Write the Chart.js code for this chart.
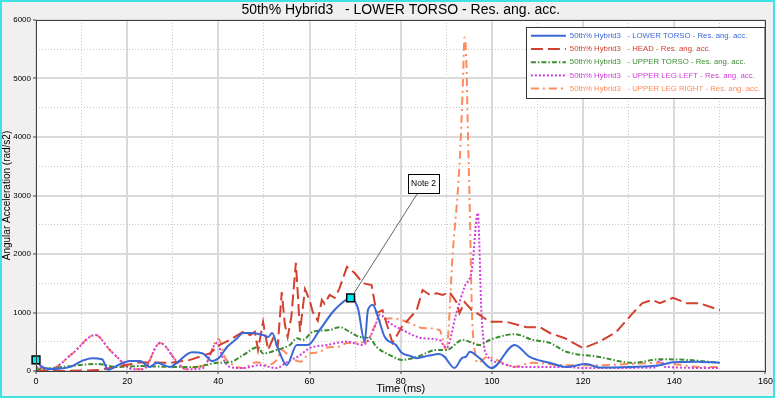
<!DOCTYPE html>
<html>
<head>
<meta charset="utf-8">
<script src="https://cdn.jsdelivr.net/npm/chart.js@4/dist/chart.umd.min.js"></script>
<style>
  html, body { margin: 0; padding: 0; background: #F0F0F0; }
  #wrap { width: 775px; height: 398px; }
</style>
</head>
<body>
<div id="wrap"><canvas id="accChart"></canvas></div>
<script>
const FONT = "'Liberation Sans', Arial, sans-serif";
const chartTitle = "50th% Hybrid3   - LOWER TORSO - Res. ang. acc.";
const seriesNames = [
  "50th% Hybrid3   - LOWER TORSO - Res. ang. acc.",
  "50th% Hybrid3   - HEAD - Res. ang. acc.",
  "50th% Hybrid3   - UPPER TORSO - Res. ang. acc.",
  "50th% Hybrid3   - UPPER LEG LEFT - Res. ang. acc.",
  "50th% Hybrid3   - UPPER LEG RIGHT - Res. ang. acc."
];
const xTicks = [0, 20, 40, 60, 80, 100, 120, 140, 160];
const yTicks = [0, 1000, 2000, 3000, 4000, 5000, 6000];

// time (ms) / angular acceleration (rad/s2)
const lowerTorsoT = [0, 1, 3, 5, 7.5, 10, 12.3, 14.5, 15.8, 18, 20.6, 22.8, 25, 26.5, 29.4, 30.9, 34.2, 36.6, 38.6, 40.3, 41.9, 44, 45.4, 47, 49.8, 50.9, 51.8, 53, 55, 57.2, 59.6, 62.2, 65, 66.6, 69, 70.6, 72.1, 72.8, 73.9, 75, 76.5, 79, 80.2, 82, 83.5, 86, 88.5, 89.5, 91.8, 93.4, 94.4, 95.1, 97.3, 99.9, 105, 108.3, 112.6, 116.3, 120.7, 123.6, 130, 136.8, 139.7, 145, 150];
const lowerTorsoV = [190, 90, 35, 40, 70, 170, 220, 200, 20, 100, 170, 170, 70, 140, 70, 140, 320, 300, 170, 240, 410, 550, 650, 650, 615, 580, 650, 400, 100, 445, 445, 700, 1000, 1130, 1250, 1075, 500, 1040, 1130, 925, 580, 440, 310, 260, 220, 260, 290, 250, 50, 220, 250, 330, 220, 50, 445, 240, 140, 70, 120, 60, 70, 100, 150, 160, 140];

const headT = [0, 6, 13.4, 17.8, 22.8, 29.4, 33.8, 38.1, 40.3, 42.5, 45.4, 47, 48, 48.7, 49.8, 50.9, 52, 53, 53.9, 54.6, 55.2, 56, 57, 57.5, 57.9, 59, 60, 60.7, 61.8, 62.7, 63.3, 64.4, 65.5, 66.5, 68.2, 69.9, 71.7, 73.6, 74.7, 76, 78.2, 80.2, 83.5, 84.8, 86.4, 87.9, 89.2, 90.7, 92.2, 92.9, 94, 95.6, 96.7, 99.5, 103.2, 107.6, 110.5, 112.7, 116, 120, 123.6, 127.3, 130.9, 133, 135.2, 136.8, 139.7, 142.7, 145.5, 150];
const headV = [0, 0, 15, 70, 150, 140, 190, 300, 445, 530, 670, 615, 670, 360, 840, 360, 560, 410, 1350, 785, 580, 920, 1850, 1215, 670, 1400, 1215, 1010, 860, 1215, 1150, 1300, 1250, 1400, 1780, 1675, 1500, 1470, 990, 1040, 480, 750, 1040, 1385, 1300, 1330, 1300, 1350, 1180, 990, 1180, 1040, 990, 840, 840, 750, 750, 650, 560, 390, 500, 670, 990, 1160, 1215, 1160, 1250, 1160, 1160, 1040];

const upperTorsoT = [0, 6, 13.4, 17.8, 22.8, 29.4, 35, 39.7, 42.5, 45.4, 48.7, 49.8, 52.8, 55.7, 57.2, 58.5, 60.7, 64.4, 66.6, 68.8, 71, 73.2, 74.7, 77.6, 80.4, 83.5, 87.9, 90, 93.6, 97.3, 99.5, 103.2, 105, 109, 112.7, 116.3, 123.6, 130.9, 136.8, 142.7, 150];
const upperTorsoV = [20, 70, 120, 70, 85, 70, 70, 140, 150, 270, 410, 300, 360, 445, 560, 530, 670, 700, 750, 670, 580, 560, 410, 270, 190, 240, 360, 360, 530, 445, 530, 615, 630, 530, 480, 330, 240, 140, 200, 190, 140];

const legLeftT = [0, 3, 8, 13, 16.2, 17.8, 21.3, 23.5, 27.2, 31, 33, 36.6, 39.7, 41, 42.5, 45.4, 49, 52.8, 55, 57.9, 60, 63.8, 68.2, 71.7, 74.3, 75.4, 77.6, 80.4, 84.8, 88.5, 90, 92.2, 94, 95.6, 96.9, 97.7, 98, 98.5, 101.7, 105.4, 110.5, 116.3, 120, 136, 136.8, 138, 150];
const legLeftV = [70, 30, 300, 615, 360, 240, 30, 30, 480, 150, 30, 50, 480, 220, 70, 50, 100, 50, 150, 270, 390, 445, 500, 445, 750, 960, 820, 700, 560, 530, 390, 990, 1440, 1730, 2700, 990, 650, 330, 140, 70, 70, 70, 50, 60, 200, 70, 50];

const legRightT = [0, 3, 8, 13, 16.2, 21, 23.5, 27.2, 31, 33, 35, 37, 40, 41.4, 42.5, 45.4, 48.4, 50.6, 52.8, 53.9, 55.7, 58, 60, 62.2, 63.8, 66.6, 68.2, 72.5, 74.7, 78.2, 82, 84.8, 88.5, 90, 91.4, 92.9, 93.6, 94, 94.4, 94.7, 95.1, 95.6, 96.2, 96.9, 99, 102.4, 104.6, 109, 116, 123.6, 137, 145.5, 150];
const legRightV = [50, 30, 300, 620, 360, 40, 30, 480, 150, 30, 70, 100, 550, 240, 140, 50, 150, 100, 190, 360, 240, 160, 300, 320, 400, 420, 480, 500, 820, 900, 820, 735, 700, 360, 2010, 3550, 4850, 5700, 5260, 4170, 2920, 1040, 360, 140, 240, 140, 70, 140, 100, 100, 140, 70, 70];

// the two cyan markers and the note
const markerT = [0, 69];
const markerV = [190, 1250];
const noteText = "Note 2";
const noteX = 85;
const noteY = 3200;

const colors = ["#3A68D6", "#D2402E", "#3C8C32", "#D23CDC", "#FF8A5C"];
const dashes = [[], [12, 5], [5, 2, 1.5, 2], [2, 2], [8, 4, 2, 4]];

function pts(t, v) {
  return t.map((x, i) => ({ x: x, y: v[i] }));
}

const seriesData = [
  pts(lowerTorsoT, lowerTorsoV),
  pts(headT, headV),
  pts(upperTorsoT, upperTorsoV),
  pts(legLeftT, legLeftV),
  pts(legRightT, legRightV)
];

const datasets = seriesData.map((d, i) => ({
  label: seriesNames[i],
  data: d,
  borderColor: colors[i],
  backgroundColor: colors[i],
  borderWidth: 2,
  borderDash: dashes[i],
  pointRadius: 0,
  cubicInterpolationMode: i === 1 ? "default" : "monotone",
  tension: 0,
  fill: false
}));

datasets.unshift({
  data: pts(markerT, markerV),
  showLine: false,
  pointStyle: "rect",
  pointRadius: 5.5,
  backgroundColor: "#00E8F0",
  borderColor: "#000000",
  borderWidth: 1.5,
  clip: false,
  order: -1
});

// background, legend placement, note, frame
const decor = {
  id: "decor",
  beforeDraw(chart) {
    const { ctx, chartArea: a, width, height } = chart;
    ctx.save();
    ctx.fillStyle = "#F0F0F0";
    ctx.fillRect(0, 0, width, height);
    ctx.fillStyle = "#FFFFFF";
    ctx.fillRect(a.left, a.top, a.right - a.left, a.bottom - a.top);
    ctx.restore();
  },
  afterLayout(chart) {
    const lg = chart.legend;
    const a = chart.chartArea;
    lg.left = a.right - 240;
    lg.top = a.top + 6.5;
    lg.width = 240;
    lg.height = 80;
    lg.right = lg.left + lg.width;
    lg.bottom = lg.top + lg.height;
  },
  afterDraw(chart) {
    const { ctx, chartArea: a, width, height } = chart;
    const xs = chart.scales.x, ys = chart.scales.y;
    ctx.save();

    // note with leader line
    const nx = xs.getPixelForValue(noteX), ny = ys.getPixelForValue(noteY);
    const mx = xs.getPixelForValue(markerT[1]), my = ys.getPixelForValue(markerV[1]);
    ctx.font = "8.5px " + FONT;
    const bw = 31, bh = 19;
    ctx.strokeStyle = "#666666";
    ctx.lineWidth = 1;
    ctx.beginPath();
    ctx.moveTo(nx - 6, ny + bh / 2);
    ctx.lineTo(mx + 3, my - 4);
    ctx.stroke();
    ctx.fillStyle = "#FFFFFF";
    ctx.fillRect(nx - bw / 2, ny - bh / 2, bw, bh);
    ctx.strokeStyle = "#000000";
    ctx.strokeRect(Math.round(nx - bw / 2) + 0.5, Math.round(ny - bh / 2) + 0.5, bw, bh);
    ctx.fillStyle = "#000000";
    ctx.textAlign = "center";
    ctx.textBaseline = "middle";
    ctx.fillText(noteText, nx, ny);

    // legend box
    const lg = chart.legend;
    const bx = Math.round(lg.left) + 1, by = Math.round(lg.top);
    ctx.fillStyle = "#FFFFFF";
    ctx.fillRect(bx, by, a.right - bx, 71);
    ctx.strokeStyle = "#333333";
    ctx.strokeRect(bx + 0.5, by + 0.5, a.right - bx - 1, 71);
    lg.draw(a);

    // plot frame
    ctx.strokeStyle = "#404040";
    ctx.lineWidth = 1;
    ctx.strokeRect(Math.round(a.left) + 0.5, Math.round(a.top) + 0.5, Math.round(a.right - a.left), Math.round(a.bottom - a.top));

    // outer border
    ctx.strokeStyle = "#3FE3E3";
    ctx.lineWidth = 2;
    ctx.strokeRect(1, 1, width - 2, height - 2);
    ctx.restore();
  }
};

new Chart(document.getElementById("accChart"), {
  type: "line",
  data: { datasets: datasets },
  options: {
    responsive: true,
    maintainAspectRatio: false,
    animation: false,
    devicePixelRatio: 1,
    layout: { padding: { left: 0, right: 9, top: 0, bottom: 0 } },
    plugins: {
      tooltip: { enabled: false },
      title: {
        display: true,
        text: chartTitle,
        color: "#000000",
        fullSize: false,
        font: { family: FONT, size: 14, weight: "normal", lineHeight: 1 },
        padding: { top: 3, bottom: 3 }
      },
      legend: {
        display: true,
        position: "chartArea",
        align: "start",
        labels: {
          font: { family: FONT, size: 7.8 },
          usePointStyle: true,
          pointStyleWidth: 35,
          padding: 5.4,
          generateLabels: chart => chart.data.datasets
            .map((ds, i) => ({
              text: ds.label,
              fontColor: ds.borderColor,
              strokeStyle: ds.borderColor,
              fillStyle: ds.borderColor,
              lineWidth: ds.borderWidth,
              lineDash: ds.borderDash || [],
              pointStyle: "line",
              hidden: false,
              datasetIndex: i
            }))
            .filter(l => l.text)
        }
      }
    },
    scales: {
      x: {
        type: "linear",
        min: 0,
        max: 160,
        afterFit: s => { s.height = 27; },
        afterBuildTicks: s => { s.ticks = xTicks.map(v => ({ value: v })); },
        ticks: { color: "#000000", font: { family: FONT, size: 9 }, padding: 2, maxRotation: 0, callback: v => String(v) },
        grid: { color: "#DADADA", lineWidth: 2, tickColor: "#404040", tickLength: 3, tickWidth: 1 },
        border: { display: false },
        title: { display: true, text: "Time (ms)", color: "#000000", font: { family: FONT, size: 11 }, padding: { top: 0, bottom: 2 } }
      },
      x2: {
        type: "linear",
        axis: "x",
        position: "bottom",
        min: 0,
        max: 160,
        afterFit: s => { s.height = 0; },
        ticks: { display: false, stepSize: 10 },
        grid: {
          drawTicks: false,
          lineWidth: 1,
          color: c => (c.tick && c.tick.value % 20 === 0) ? "rgba(0,0,0,0)" : "#C8C8C8"
        },
        border: { display: false, dash: [1, 2] }
      },
      y: {
        type: "linear",
        min: 0,
        max: 6000,
        afterFit: s => { s.width = 36; },
        afterBuildTicks: s => { s.ticks = yTicks.map(v => ({ value: v })); },
        ticks: { color: "#000000", font: { family: FONT, size: 8 }, padding: 2, callback: v => String(v) },
        grid: { color: "#DADADA", lineWidth: 2, tickColor: "#404040", tickLength: 3, tickWidth: 1 },
        border: { display: false },
        title: { display: true, text: "Angular Acceleration (rad/s2)", color: "#000000", font: { family: FONT, size: 10 }, padding: { top: 1, bottom: 0 } }
      },
      y2: {
        type: "linear",
        axis: "y",
        position: "left",
        min: 0,
        max: 6000,
        afterFit: s => { s.width = 0; },
        ticks: { display: false, stepSize: 500 },
        grid: {
          drawTicks: false,
          lineWidth: 1,
          color: c => (c.tick && c.tick.value % 1000 === 0) ? "rgba(0,0,0,0)" : "#C8C8C8"
        },
        border: { display: false, dash: [1, 2] }
      }
    }
  },
  plugins: [decor]
});
</script>
</body>
</html>
